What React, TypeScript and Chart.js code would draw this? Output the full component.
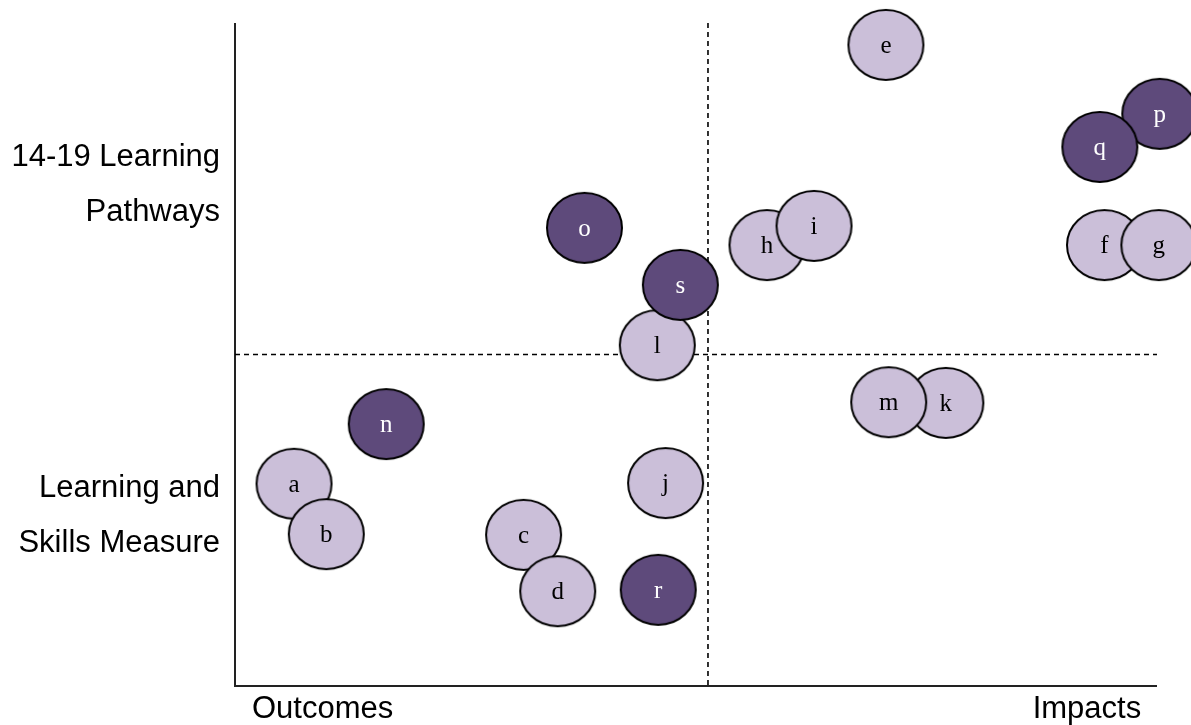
import { useEffect, useRef } from "react";
import { Chart, registerables } from "chart.js";

Chart.register(...registerables);

// ---- data (draw order matters: later points overlap earlier ones) ----
const bubbleLabels = ["k", "m", "a", "b", "c", "d", "r", "j", "n", "l", "s", "o", "h", "i", "e", "p", "q", "f", "g"];
const xValues = [77.1, 70.9, 6.4, 9.9, 31.3, 35.0, 45.9, 46.7, 16.4, 45.8, 48.3, 37.9, 57.7, 62.8, 70.6, 100.3, 93.8, 94.3, 100.2];
const yValues = [42.7, 42.8, 30.5, 22.9, 22.8, 14.3, 14.5, 30.6, 39.5, 51.4, 60.5, 69.1, 66.5, 69.4, 96.7, 86.3, 81.3, 66.5, 66.5];
const groups = ["light", "light", "light", "light", "light", "light", "dark", "light", "dark", "light", "dark", "dark", "light", "light", "light", "dark", "dark", "light", "light"];

const rowLabels = [
  ["14-19 Learning", "Pathways"],
  ["Learning and", "Skills Measure"],
];
const rowLabelValues = [75.6, 25.7];
const columnLabels = ["Outcomes", "Impacts"];
const columnLabelValues = [9.5, 92.4];
const dividerX = 51.3;
const dividerY = 50;

const LIGHT = "#cbbfd9";
const DARK = "#5e4a7b";

function makeEllipse(fill: string): HTMLCanvasElement {
  const rx = 37.5, ry = 35, lw = 2;
  const c = document.createElement("canvas");
  c.width = Math.ceil(rx * 2 + lw * 2);
  c.height = Math.ceil(ry * 2 + lw * 2);
  const ctx = c.getContext("2d")!;
  ctx.beginPath();
  ctx.ellipse(c.width / 2, c.height / 2, rx, ry, 0, 0, Math.PI * 2);
  ctx.fillStyle = fill;
  ctx.fill();
  ctx.lineWidth = lw;
  ctx.strokeStyle = "#000";
  ctx.stroke();
  return c;
}

const framePlugin = {
  id: "frame",
  beforeDatasetsDraw(chart: any) {
    const { ctx, chartArea: a, scales } = chart;
    const xs = scales.x, ys = scales.y;
    ctx.save();
    // axes
    ctx.strokeStyle = "#222";
    ctx.lineWidth = 2;
    ctx.beginPath();
    ctx.moveTo(a.left, a.top);
    ctx.lineTo(a.left, a.bottom);
    ctx.lineTo(a.right, a.bottom);
    ctx.stroke();
    // dividers
    ctx.strokeStyle = "#000";
    ctx.lineWidth = 1.6;
    ctx.setLineDash([5, 4]);
    const vx = xs.getPixelForValue(dividerX);
    const hy = ys.getPixelForValue(dividerY);
    ctx.beginPath();
    ctx.moveTo(vx, a.top);
    ctx.lineTo(vx, a.bottom);
    ctx.moveTo(a.left, hy);
    ctx.lineTo(a.right, hy);
    ctx.stroke();
    ctx.setLineDash([]);
    // text labels
    ctx.fillStyle = "#000";
    ctx.font = '31px "Liberation Sans", Arial, sans-serif';
    ctx.textBaseline = "middle";
    ctx.textAlign = "right";
    rowLabels.forEach((lines, i) => {
      const cy = ys.getPixelForValue(rowLabelValues[i]);
      const lh = 55;
      lines.forEach((t, j) => {
        ctx.fillText(t, a.left - 15, cy + (j - (lines.length - 1) / 2) * lh);
      });
    });
    ctx.textAlign = "center";
    columnLabels.forEach((t, i) => {
      ctx.fillText(t, xs.getPixelForValue(columnLabelValues[i]), a.bottom + 23);
    });
    ctx.restore();
  },
  afterDatasetsDraw(chart: any) {
    const { ctx } = chart;
    const meta = chart.getDatasetMeta(0);
    ctx.save();
    ctx.font = '25px "Liberation Serif", "Times New Roman", serif';
    ctx.textAlign = "center";
    ctx.textBaseline = "alphabetic";
    meta.data.forEach((pt: any, i: number) => {
      ctx.fillStyle = groups[i] === "dark" ? "#ffffff" : "#000000";
      ctx.fillText(bubbleLabels[i], pt.x, pt.y + 8);
    });
    ctx.restore();
  },
};

export default function App() {
  const ref = useRef<HTMLCanvasElement | null>(null);
  useEffect(() => {
    if (!ref.current) return;
    document.body.style.margin = "0";
    const lightImg = makeEllipse(LIGHT);
    const darkImg = makeEllipse(DARK);
    const chart = new Chart(ref.current, {
      type: "scatter",
      data: {
        datasets: [
          {
            label: "items",
            data: xValues.map((x, i) => ({ x, y: yValues[i] })),
            pointStyle: groups.map((g) => (g === "dark" ? darkImg : lightImg)) as any,
            pointRadius: 37,
            pointHoverRadius: 37,
            clip: false as any,
          },
        ],
      },
      options: {
        animation: false,
        responsive: false,
        devicePixelRatio: 1,
        layout: { autoPadding: false, padding: { left: 235, right: 34, top: 23, bottom: 39 } },
        scales: {
          x: { type: "linear", min: 0, max: 100, display: false },
          y: { type: "linear", min: 0, max: 100, display: false },
        },
        plugins: { legend: { display: false }, tooltip: { enabled: false } },
        events: [],
      },
      plugins: [framePlugin],
    });
    return () => chart.destroy();
  }, []);
  return <canvas ref={ref} width={1191} height={725} style={{ display: "block" }} />;
}
